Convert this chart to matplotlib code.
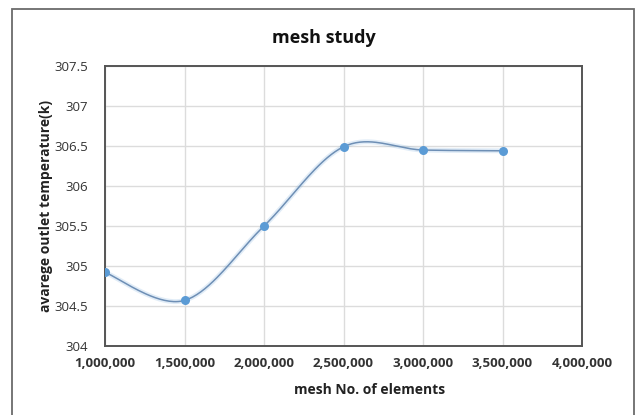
import numpy as np
import matplotlib.pyplot as plt
from matplotlib.patches import Rectangle
from matplotlib.ticker import FuncFormatter

plt.rcParams['font.family'] = ['Open Sans', 'DejaVu Sans']

# data
mesh_elements = [1000000, 1500000, 2000000, 2500000, 3000000, 3500000]
outlet_temp = [304.92, 304.57, 305.50, 306.49, 306.45, 306.44]


def smooth_curve(xs, ys, n=40):
    # Excel-style smoothed line (Catmull-Rom via cubic Bezier segments)
    xs = np.asarray(xs, float)
    ys = np.asarray(ys, float)
    px = np.concatenate([[xs[0]], xs, [xs[-1]]])
    py = np.concatenate([[ys[0]], ys, [ys[-1]]])
    t = np.linspace(0, 1, n)[:, None]
    out = []
    for i in range(1, len(xs)):
        p0 = np.array([px[i], py[i]])
        p3 = np.array([px[i + 1], py[i + 1]])
        c1 = p0 + (np.array([px[i + 1], py[i + 1]]) - np.array([px[i - 1], py[i - 1]])) / 6
        c2 = p3 - (np.array([px[i + 2], py[i + 2]]) - np.array([px[i], py[i]])) / 6
        seg = ((1 - t) ** 3) * p0 + 3 * ((1 - t) ** 2) * t * c1 + 3 * (1 - t) * t ** 2 * c2 + t ** 3 * p3
        out.append(seg)
    pts = np.vstack(out)
    return pts[:, 0], pts[:, 1]


fig = plt.figure(figsize=(6.39, 4.15), dpi=100)
ax = fig.add_axes([105 / 639, 1 - 346 / 415, (582 - 105) / 639, (346 - 66) / 415])

# outer chart border
fig.patches.append(Rectangle((12 / 639, -0.05), (634 - 12) / 639, 1.05 - 9.5 / 415,
                             transform=fig.transFigure, fill=False,
                             edgecolor='#6b6b6b', linewidth=1.3))

sx, sy = smooth_curve(mesh_elements, outlet_temp)
ax.plot(sx, sy, color='#5b9bd5', linewidth=3.5, alpha=0.18, zorder=2)
ax.plot(sx, sy, color='#6e8fb5', linewidth=1.1, zorder=3)
ax.plot(mesh_elements, outlet_temp, 'o', color='#5b9bd5', markersize=6.5,
        markeredgewidth=0, zorder=4)

ax.set_xlim(1000000, 4000000)
ax.set_ylim(304, 307.5)
ax.set_xticks(np.arange(1000000, 4000001, 500000))
ax.set_yticks(np.arange(304, 307.6, 0.5))
ax.xaxis.set_major_formatter(FuncFormatter(lambda v, p: f'{int(v):,}'))
ax.yaxis.set_major_formatter(FuncFormatter(lambda v, p: f'{v:g}'))
ax.grid(True, color='#dcdcdc', linewidth=1.0)
ax.set_axisbelow(True)
ax.tick_params(length=0, labelsize=9.5, colors='#333333')
ax.tick_params(axis='x', pad=8)
ax.tick_params(axis='y', pad=12)
for lbl in ax.get_xticklabels():
    lbl.set_fontweight('bold')
for sp in ax.spines.values():
    sp.set_color('#555555')
    sp.set_linewidth(1.4)

ax.set_xlabel('mesh No. of elements', fontsize=10, fontweight='bold', color='#222222')
ax.xaxis.set_label_coords((370 - 105) / 477, (346 - 383) / 280)
ax.set_ylabel('avarege outlet temperature(k)', fontsize=10, fontweight='bold', color='#222222')
ax.yaxis.set_label_coords((53 - 105) / 477, 0.5)
fig.text(324 / 639, 1 - 38 / 415, 'mesh study', ha='center', va='center',
         fontsize=13, fontweight='bold', color='#111111')

fig.savefig('out.png', dpi=100)
